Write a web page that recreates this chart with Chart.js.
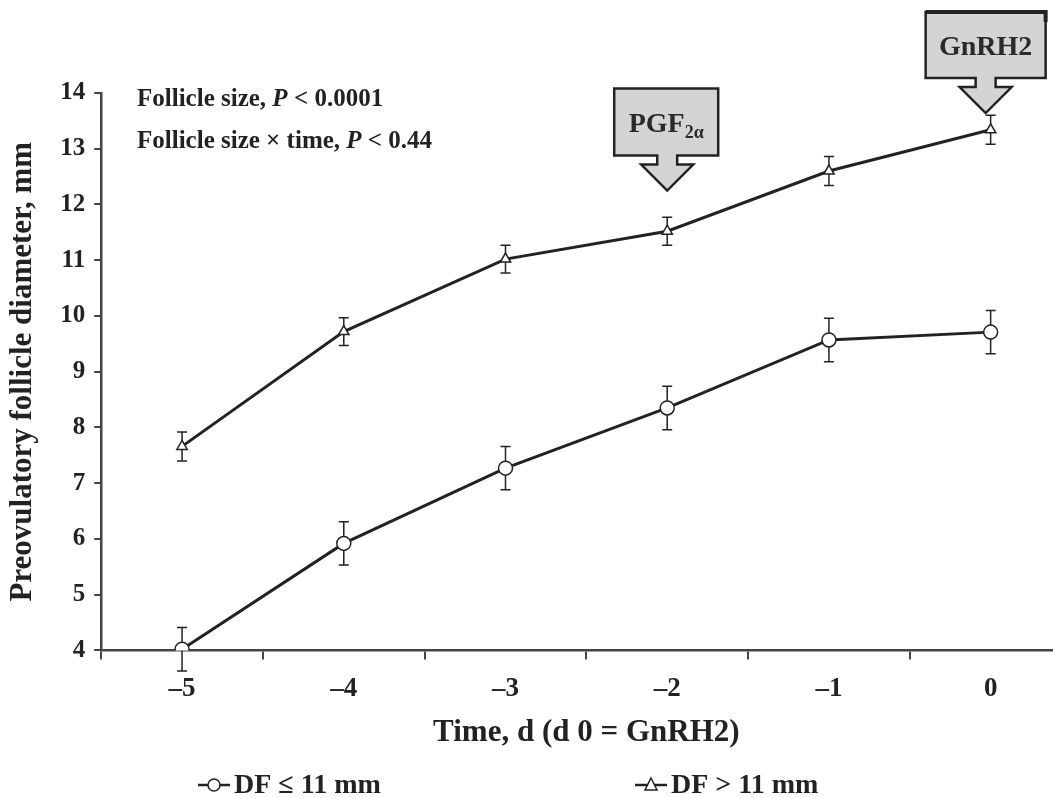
<!DOCTYPE html>
<html>
<head>
<meta charset="utf-8">
<script src="https://cdn.jsdelivr.net/npm/chart.js@4.4.1/dist/chart.umd.min.js"></script>
<style>
  html, body { margin: 0; padding: 0; background: #fff; overflow: hidden; }
  #wrap { position: relative; width: 1080px; height: 798px; }
</style>
</head>
<body>
<div id="wrap"><canvas id="myChart"></canvas></div>
<script>
// days relative to GnRH2
var timeLabels = ['\u20135', '\u20134', '\u20133', '\u20132', '\u20131', '0'];

// DF <= 11 mm
var smallMeans = [4.02, 5.92, 7.27, 8.35, 9.57, 9.71];
var smallErr = [0.39, 0.39, 0.39, 0.39, 0.39, 0.39];

// DF > 11 mm
var largeMeans = [7.66, 9.72, 11.02, 11.52, 12.6, 13.34];
var largeErr = [0.26, 0.25, 0.25, 0.25, 0.26, 0.26];

var yTicks = [4, 5, 6, 7, 8, 9, 10, 11, 12, 13, 14];

// treatment arrows: category index and value at the arrow tip
var arrowAt = [3, 5];
var arrowTip = [12.25, 13.64];
var arrowText = ['PGF', 'GnRH2'];
var arrowSub = ['2\u03b1', ''];

var ink = '#222';
var serif = "'Liberation Serif', 'DejaVu Serif', serif";

var errorBars = {
    id: 'errorBars',
    beforeDatasetsDraw: function(chart) {
        var ctx = chart.ctx;
        var xs = chart.scales.x, ys = chart.scales.y;
        var sets = [[smallMeans, smallErr], [largeMeans, largeErr]];
        ctx.save();
        ctx.strokeStyle = ink;
        ctx.lineWidth = 1.5;
        sets.forEach(function(s) {
            s[0].forEach(function(v, i) {
                var x = xs.getPixelForValue(i);
                var top = ys.getPixelForValue(v + s[1][i]);
                var bot = ys.getPixelForValue(v - s[1][i]);
                ctx.beginPath();
                ctx.moveTo(x, top); ctx.lineTo(x, bot);
                ctx.moveTo(x - 5, top); ctx.lineTo(x + 5, top);
                ctx.moveTo(x - 5, bot); ctx.lineTo(x + 5, bot);
                ctx.stroke();
            });
        });
        ctx.restore();
    }
};

var extras = {
    id: 'extras',
    afterDraw: function(chart) {
        var ctx = chart.ctx;
        var xs = chart.scales.x, ys = chart.scales.y;
        ctx.save();
        ctx.fillStyle = ink;
        ctx.textBaseline = 'alphabetic';

        // statistics text
        var lines = [['Follicle size, ', 'P', ' < 0.0001'], ['Follicle size \u00d7 time, ', 'P', ' < 0.44']];
        lines.forEach(function(parts, k) {
            var x = 137, y = 106 + k * 42;
            parts.forEach(function(p, j) {
                ctx.font = (j === 1 ? 'italic bold ' : 'bold ') + '25px ' + serif;
                ctx.fillText(p, x, y);
                x += ctx.measureText(p).width;
            });
        });

        // arrows
        arrowAt.forEach(function(idx, k) {
            var tipX = xs.getPixelForValue(idx) + (k === 1 ? -5 : 0);
            var tipY = ys.getPixelForValue(arrowTip[k]);
            var w = k === 0 ? 104 : 120, h = k === 0 ? 67 : 66;
            var boxBottom = tipY - 35;
            var boxTop = boxBottom - h;
            var boxLeft = k === 0 ? tipX - 53 : tipX - 60;
            ctx.beginPath();
            ctx.moveTo(boxLeft, boxTop);
            ctx.lineTo(boxLeft + w, boxTop);
            ctx.lineTo(boxLeft + w, boxBottom);
            ctx.lineTo(tipX + 10, boxBottom);
            ctx.lineTo(tipX + 10, boxBottom + 9);
            ctx.lineTo(tipX + 26, boxBottom + 9);
            ctx.lineTo(tipX, tipY);
            ctx.lineTo(tipX - 26, boxBottom + 9);
            ctx.lineTo(tipX - 10, boxBottom + 9);
            ctx.lineTo(tipX - 10, boxBottom);
            ctx.lineTo(boxLeft, boxBottom);
            ctx.closePath();
            ctx.fillStyle = '#d3d4d6';
            ctx.fill();
            ctx.strokeStyle = ink;
            ctx.lineWidth = 2.5;
            ctx.lineJoin = 'miter';
            ctx.stroke();
            if (k === 1) {
                ctx.lineWidth = 4;
                ctx.beginPath();
                ctx.moveTo(boxLeft, boxTop);
                ctx.lineTo(boxLeft + w, boxTop);
                ctx.lineTo(boxLeft + w, boxTop + 10);
                ctx.stroke();
            }
            ctx.fillStyle = '#2a2a2a';
            ctx.font = 'bold 28px ' + serif;
            var tw = ctx.measureText(arrowText[k]).width;
            ctx.font = 'bold 18px ' + serif;
            var sw = arrowSub[k] ? ctx.measureText(arrowSub[k]).width : 0;
            var cx = boxLeft + w / 2 - (tw + sw) / 2;
            var ty = boxTop + h / 2 + 10;
            ctx.font = 'bold 28px ' + serif;
            ctx.fillText(arrowText[k], cx, ty);
            if (arrowSub[k]) {
                ctx.font = 'bold 18px ' + serif;
                ctx.fillText(arrowSub[k], cx + tw, ty + 6);
            }
        });

        // legend
        var legX = [198, 635];
        chart.data.datasets.forEach(function(ds, k) {
            var x = legX[k], y = 785;
            ctx.strokeStyle = ink;
            ctx.lineWidth = 2.5;
            ctx.beginPath();
            ctx.moveTo(x, y); ctx.lineTo(x + 32, y);
            ctx.stroke();
            ctx.lineWidth = 1.5;
            ctx.fillStyle = '#fff';
            ctx.beginPath();
            if (ds.pointStyle === 'circle') {
                ctx.arc(x + 16, y, 6, 0, Math.PI * 2);
            } else {
                ctx.moveTo(x + 16, y - 7); ctx.lineTo(x + 22, y + 5); ctx.lineTo(x + 10, y + 5); ctx.closePath();
            }
            ctx.fill(); ctx.stroke();
            ctx.fillStyle = ink;
            ctx.font = 'bold 28px ' + serif;
            ctx.textBaseline = 'middle';
            ctx.fillText(ds.label, x + 36, y + 1);
            ctx.textBaseline = 'alphabetic';
        });
        ctx.restore();
    }
};

var ctx = document.getElementById('myChart').getContext('2d');
var myChart = new Chart(ctx, {
    type: 'line',
    data: {
        labels: timeLabels,
        datasets: [{
            label: 'DF \u2264 11 mm',
            data: smallMeans,
            borderColor: ink,
            borderWidth: 3,
            pointStyle: 'circle',
            pointRadius: 7,
            pointBorderWidth: 1.5,
            pointBackgroundColor: '#fff',
            pointBorderColor: ink,
            tension: 0
        }, {
            label: 'DF > 11 mm',
            data: largeMeans,
            borderColor: ink,
            borderWidth: 3,
            pointStyle: 'triangle',
            pointRadius: 6,
            pointBorderWidth: 1.5,
            pointBackgroundColor: '#fff',
            pointBorderColor: ink,
            tension: 0
        }]
    },
    options: {
        responsive: true,
        maintainAspectRatio: false,
        animation: false,
        layout: { padding: { top: 93, left: 4, right: 0, bottom: 46 } },
        plugins: {
            legend: { display: false },
            tooltip: { enabled: false }
        },
        scales: {
            x: {
                offset: true,
                grid: { offset: true, drawOnChartArea: false, tickLength: 9, color: '#444', lineWidth: 2 },
                border: { color: '#444', width: 2.5 },
                ticks: { color: ink, padding: 13, font: { family: serif, size: 27, weight: 'bold' } },
                title: {
                    display: true,
                    text: 'Time, d (d 0 = GnRH2)',
                    color: ink,
                    font: { family: serif, size: 31, weight: 'bold' },
                    padding: { top: -3, bottom: 0 }
                }
            },
            y: {
                min: 4,
                max: 14,
                afterBuildTicks: function(axis) {
                    axis.ticks = yTicks.map(function(v) { return { value: v }; });
                },
                grid: { drawOnChartArea: false, tickLength: 7, color: '#444', lineWidth: 2 },
                border: { color: '#444', width: 2.5 },
                ticks: { color: ink, padding: 9, font: { family: serif, size: 25, weight: 'bold' } },
                title: {
                    display: true,
                    text: 'Preovulatory follicle diameter, mm',
                    color: ink,
                    font: { family: serif, size: 31, weight: 'bold' },
                    padding: { top: 0, bottom: 10 }
                }
            }
        }
    },
    plugins: [errorBars, extras]
});
</script>
</body>
</html>
